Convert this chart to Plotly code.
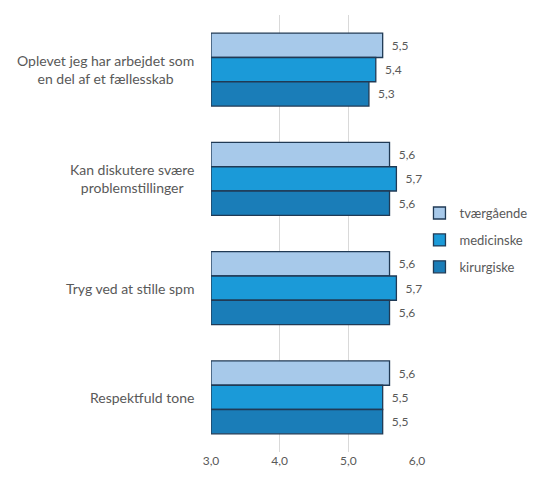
import plotly.graph_objects as go

# Survey items (top to bottom) and mean scores per department group
categories = [
    "Oplevet jeg har arbejdet som<br>en del af et fællesskab",
    "Kan diskutere svære<br>problemstillinger",
    "Tryg ved at stille spm",
    "Respektfuld tone",
]
tvaergaaende = [5.5, 5.6, 5.6, 5.6]
medicinske = [5.4, 5.7, 5.7, 5.5]
kirurgiske = [5.3, 5.6, 5.6, 5.5]

series_names = ["tværgående", "medicinske", "kirurgiske"]
series_values = [tvaergaaende, medicinske, kirurgiske]
series_colors = ["#A7C9EA", "#1B9AD8", "#1A7DB8"]

axis_start = 3.0
tick_vals = [3.0, 4.0, 5.0, 6.0]

fig = go.Figure()
for i, (name, vals, color) in enumerate(zip(series_names, series_values, series_colors)):
    fig.add_trace(go.Bar(
        name=name,
        y=categories,
        x=[v - axis_start for v in vals],
        base=axis_start,
        orientation="h",
        customdata=vals,
        texttemplate="\u00a0\u00a0%{customdata:.1f}",
        textposition="outside",
        textfont=dict(family="Lato, Liberation Sans, sans-serif", size=12, color="#595959"),
        marker=dict(color=color, line=dict(color="#203A55", width=1.3)),
        legendgroup=name,
        cliponaxis=False,
    ))

# Category labels, centred multi-line text to the left of the bars
for cat in categories:
    fig.add_annotation(
        x=-0.075, xref="paper", xanchor="right",
        y=cat, yref="y", yanchor="middle",
        text=cat, showarrow=False, align="center",
        font=dict(family="Lato, Liberation Sans, sans-serif", size=14, color="#595959"),
    )

fig.update_layout(
    width=545, height=480,
    margin=dict(l=211, r=128, t=15, b=26),
    paper_bgcolor="white", plot_bgcolor="white",
    barmode="group", bargap=0.333, bargroupgap=0,
    separators=",.",
    showlegend=True,
    legend=dict(
        x=1.012, xanchor="left", y=0.485, yanchor="middle",
        traceorder="grouped", tracegroupgap=7,
        font=dict(family="Lato, Liberation Sans, sans-serif", size=13, color="#595959"),
        itemwidth=30, borderwidth=0,
    ),
    xaxis=dict(
        range=[3, 6], tickvals=tick_vals, tickformat=".1f",
        showgrid=True, gridcolor="#D9D9D9", gridwidth=1,
        zeroline=False, showline=False, ticks="",
        tickfont=dict(family="Lato, Liberation Sans, sans-serif", size=12, color="#595959"),
    ),
    yaxis=dict(
        autorange="reversed", showticklabels=False, showgrid=False,
        zeroline=False, showline=False, ticks="",
    ),
)

fig.write_html("out.html")
